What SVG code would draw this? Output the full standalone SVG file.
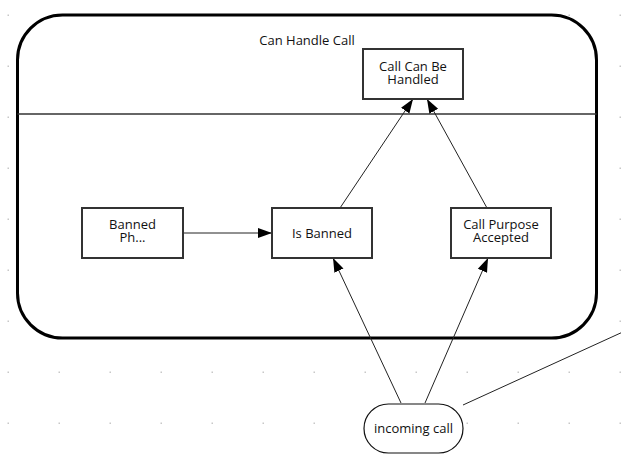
<svg xmlns="http://www.w3.org/2000/svg" width="621" height="464" viewBox="0 0 621 464">
<style>
text{font-family:"Open Sans","Noto Sans","Liberation Sans",sans-serif;font-size:13px;fill:#111;text-anchor:middle}
.box{fill:#fff;stroke:#333;stroke-width:2}
.edge{stroke:#222;stroke-width:1;fill:none}
.dot{fill:#c8c8c8}
</style>
<defs>
<marker id="arr" markerUnits="userSpaceOnUse" markerWidth="15" markerHeight="12" refX="14" refY="5" orient="auto" viewBox="0 0 15 10">
<path d="M0,0 L14,5 L0,10 Z" fill="#000"/>
</marker>
<pattern id="grid" x="0" y="0" width="51" height="51" patternUnits="userSpaceOnUse">
<rect x="7.5" y="14.5" width="1.5" height="1.5" class="dot"/>
</pattern>
</defs>
<rect x="0" y="0" width="621" height="464" fill="#fff"/>
<rect x="0" y="0" width="621" height="464" fill="url(#grid)"/>
<g id="container">
<rect x="17.5" y="15" width="579" height="323" rx="45" ry="45" fill="#fff" stroke="#000" stroke-width="3"/>
<line x1="17.5" y1="114" x2="596.5" y2="114" stroke="#333" stroke-width="1.5"/>
<text x="307" y="45">Can Handle Call</text>
</g>
<g id="connectors">
<line class="edge" x1="183" y1="233" x2="272" y2="233" stroke="#666" stroke-width="1.3" marker-end="url(#arr)"/>
<line class="edge" x1="340" y1="208" x2="413" y2="99" marker-end="url(#arr)"/>
<line class="edge" x1="487" y1="208" x2="427" y2="99" marker-end="url(#arr)"/>
<line class="edge" x1="401" y1="403" x2="333" y2="258" marker-end="url(#arr)"/>
<line class="edge" x1="425" y1="403" x2="488" y2="258" marker-end="url(#arr)"/>
<line class="edge" x1="463" y1="405" x2="625" y2="331"/>
</g>
<g id="call-can-be-handled">
<rect class="box" x="363" y="49" width="100" height="50"/>
<text x="413" y="71">Call Can Be<tspan x="413" dy="13">Handled</tspan></text>
</g>
<g id="banned-ph">
<rect class="box" x="82" y="208" width="101" height="50"/>
<text x="132.5" y="229">Banned<tspan x="132.5" dy="13">Ph...</tspan></text>
</g>
<g id="is-banned">
<rect class="box" x="272" y="208" width="100" height="50"/>
<text x="322" y="237.5">Is Banned</text>
</g>
<g id="call-purpose-accepted">
<rect class="box" x="451" y="208" width="100" height="50"/>
<text x="501" y="229">Call Purpose<tspan x="501" dy="13">Accepted</tspan></text>
</g>
<g id="incoming-call">
<rect x="364" y="404" width="99" height="49" rx="24.5" ry="24.5" fill="#fff" stroke="#111" stroke-width="1.2"/>
<text x="413.5" y="432.5">incoming call</text>
</g>
</svg>
